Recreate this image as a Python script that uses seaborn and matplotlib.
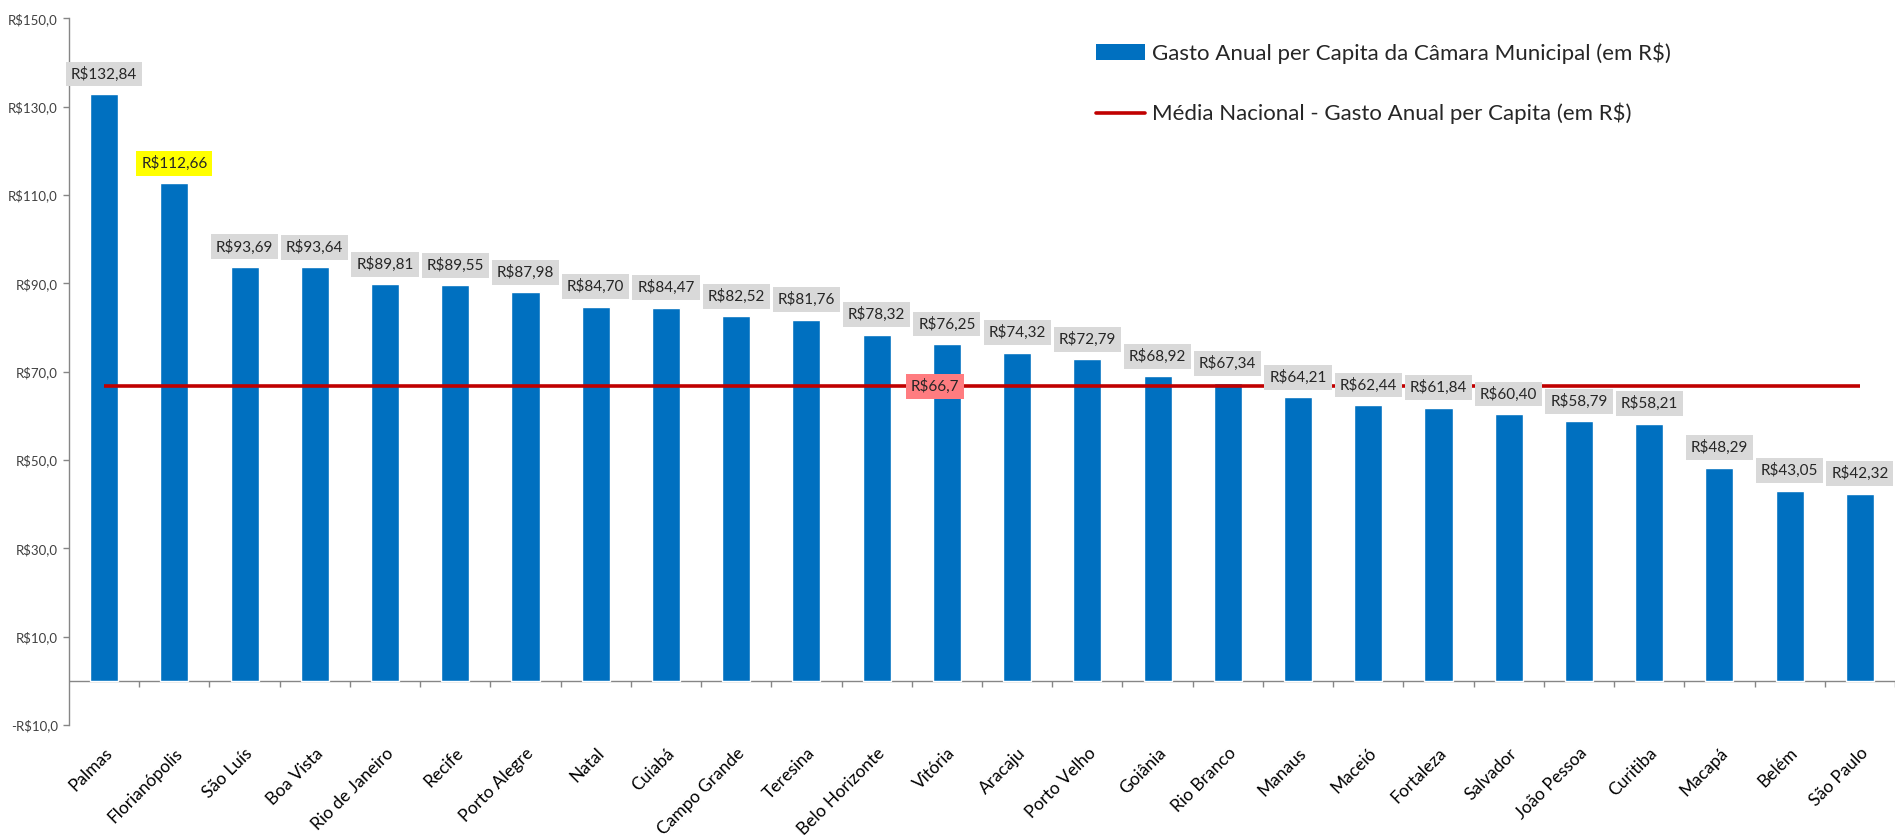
import matplotlib
matplotlib.use("Agg")
import matplotlib.pyplot as plt
import seaborn as sns
from matplotlib.patches import Patch
from matplotlib.lines import Line2D
from matplotlib.ticker import FuncFormatter

cidades = ["Palmas", "Florianópolis", "São Luís", "Boa Vista", "Rio de Janeiro", "Recife",
           "Porto Alegre", "Natal", "Cuiabá", "Campo Grande", "Teresina", "Belo Horizonte",
           "Vitória", "Aracaju", "Porto Velho", "Goiânia", "Rio Branco", "Manaus", "Maceió",
           "Fortaleza", "Salvador", "João Pessoa", "Curitiba", "Macapá", "Belém", "São Paulo"]
gasto = [132.84, 112.66, 93.69, 93.64, 89.81, 89.55, 87.98, 84.70, 84.47, 82.52, 81.76, 78.32,
         76.25, 74.32, 72.79, 68.92, 67.34, 64.21, 62.44, 61.84, 60.40, 58.79, 58.21, 48.29,
         43.05, 42.32]
media_nacional = 66.7
yticks = [-10, 10, 30, 50, 70, 90, 110, 130, 150]
destaque = "Florianópolis"

serie_barra = "Gasto Anual per Capita da Câmara Municipal (em R$)"
serie_linha = "Média Nacional - Gasto Anual per Capita (em R$)"

sns.set_style("white")
plt.rcParams["font.family"] = ["Lato", "DejaVu Sans"]

BLUE = "#0070C0"
RED = "#C00000"
GRAY = "#868686"

fig = plt.figure(figsize=(18.95, 8.35), dpi=100)
ax = fig.add_axes([0.0364, 0.1317, 0.9636, 0.8463])

sns.barplot(x=cidades, y=gasto, color=BLUE, saturation=1, width=0.4, ax=ax, zorder=2)

n = len(cidades)
ax.hlines(media_nacional, 0, n - 1, color=RED, lw=2.6, zorder=3)

ax.set_xlim(-0.5, n - 0.5)
ax.set_ylim(-10, 150)
ax.set_yticks(yticks)

def fmt(v, pos=None):
    s = f"R${abs(v):.1f}".replace(".", ",")
    return "-" + s if v < 0 else s

ax.yaxis.set_major_formatter(FuncFormatter(fmt))
ax.tick_params(axis="y", labelsize=9.5, colors="#404040", length=4, width=1, direction="out",
               left=True, pad=4)
ax.tick_params(axis="y", color=GRAY)

for s in ["top", "right", "bottom"]:
    ax.spines[s].set_visible(False)
ax.spines["left"].set_color(GRAY)
ax.spines["left"].set_linewidth(1)

# zero line and category separator ticks
ax.axhline(0, color=GRAY, lw=1, zorder=1)
ax.vlines([i + 0.5 for i in range(n)], -1.3, 0, color=GRAY, lw=1, zorder=1)

ax.set_xticks(range(n))
ax.set_xticklabels(cidades, rotation=45, ha="right", va="top", rotation_mode="anchor",
                   fontsize=12.5)
ax.tick_params(axis="x", length=0, pad=14.5, colors="black")
ax.set_xlabel("")
ax.set_ylabel("")

for i, (c, v) in enumerate(zip(cidades, gasto)):
    fc = "#FFFF00" if c == destaque else "#D9D9D9"
    ax.annotate(f"R${v:.2f}".replace(".", ","), (i, v), xytext=(0, 14.5),
                textcoords="offset points", ha="center", va="center", fontsize=11,
                bbox=dict(boxstyle="square,pad=0.32", fc=fc, ec="none"), zorder=5)

ax.annotate(f"R${media_nacional:.1f}".replace(".", ","), (11.83, media_nacional),
            ha="center", va="center", fontsize=11,
            bbox=dict(boxstyle="square,pad=0.32", fc="#FF7C80", ec="none"), zorder=6)

handles = [Patch(facecolor=BLUE, edgecolor="none"), Line2D([0], [0], color=RED, lw=2.6)]
fig.legend(handles, [serie_barra, serie_linha], loc="upper left",
           bbox_to_anchor=(0.568, 0.973), frameon=False, fontsize=16,
           labelspacing=1.75, handlelength=2.2, handleheight=0.7, handletextpad=0.3)

fig.savefig("out.png", dpi=100)
